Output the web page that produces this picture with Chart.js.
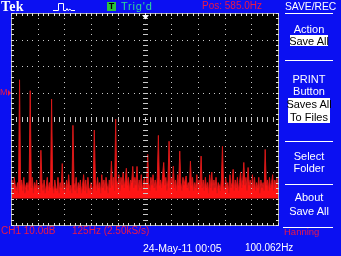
<!DOCTYPE html>
<html>
<head>
<meta charset="utf-8">
<script src="https://cdn.jsdelivr.net/npm/chart.js@4"></script>
<style>
  html, body { margin:0; padding:0; }
  body { width:341px; height:256px; background:#0b10f2; position:relative; overflow:hidden; }
  #c { position:absolute; left:0; top:0; }
  .t { position:absolute; white-space:nowrap; line-height:1; font-family:"Liberation Sans", Arial, sans-serif; font-size:10px; color:#fff; }
  .r { color:#ec1846; }
  .m { width:48px; left:285px; text-align:center; font-size:11px; }
  .box { position:absolute; background:#fff; }
  .ln { position:absolute; height:1px; background:#fff; }
</style>
</head>
<body>
<canvas id="c" width="341" height="256"></canvas>

<div class="t" style="left:1px;top:0px;font-family:'Liberation Serif',serif;font-weight:bold;font-size:14px;letter-spacing:0.3px;">Tek</div>
<svg style="position:absolute;left:53px;top:2px" width="22" height="10"><polyline points="0,8.5 5.5,8.5 5.5,1.5 10.5,1.5 10.5,8.5 13,8.5 14,6.5 15,8.5 17,7 18,8.5 22,8.5" fill="none" stroke="#fff" stroke-width="1"/></svg>
<div class="t" style="left:107px;top:2px;width:9px;height:9px;background:#2cc43c;color:#000;font-weight:bold;font-size:9px;text-align:center;line-height:9px;">T</div>
<div class="t" style="left:121px;top:1.3px;font-size:11px;letter-spacing:0.8px;color:#2ed898;">Trig'd</div>
<div class="t r" style="left:202px;top:1.4px;">Pos: 585.0Hz</div>
<div class="t" style="left:285px;top:2px;font-size:10.3px;">SAVE/REC</div>
<div class="ln" style="left:285px;top:13px;width:48px;"></div>

<div class="t m" style="top:23.6px;">Action</div>
<div class="box" style="left:290px;top:35px;width:38px;height:11px;"></div>
<div class="t m" style="top:35.6px;color:#000;">Save All</div>
<div class="ln" style="left:285px;top:60px;width:48px;"></div>

<div class="t m" style="top:73.6px;">PRINT</div>
<div class="t m" style="top:85.6px;">Button</div>
<div class="box" style="left:288px;top:98px;width:42px;height:25px;"></div>
<div class="t m" style="top:98.6px;color:#000;">Saves All</div>
<div class="t m" style="top:111.6px;color:#000;">To Files</div>
<div class="ln" style="left:285px;top:141px;width:48px;"></div>

<div class="t m" style="top:150.6px;">Select</div>
<div class="t m" style="top:162.6px;">Folder</div>
<div class="ln" style="left:285px;top:184px;width:48px;"></div>

<div class="t m" style="top:191.6px;">About</div>
<div class="t m" style="top:205.6px;">Save All</div>
<div class="ln" style="left:283px;top:227px;width:50px;"></div>

<div class="t r" style="left:0px;top:88px;font-size:9px;">M</div>
<div style="position:absolute;left:8px;top:90px;width:0;height:0;border-top:3px solid transparent;border-bottom:3px solid transparent;border-left:3px solid #ec1846;"></div>

<div class="t r" style="left:1px;top:226.3px;">CH1 10.0dB</div>
<div class="t r" style="left:72px;top:226.3px;">125Hz (2.50kS/s)</div>
<div class="t r" style="left:284px;top:226.5px;font-size:9.5px;">Hanning</div>
<div class="t" style="left:143px;top:242.7px;font-size:10.5px;">24-May-11 00:05</div>
<div class="t" style="left:245px;top:242.7px;font-size:10px;">100.062Hz</div>

<script>
// FFT bins (Hz) - span 1250 Hz, center 585 Hz
const binStartHz = -40;
const binStepHz = 5;
// Magnitude per bin in dB above screen bottom (10 dB/div, 8 divisions)
const levelsDb = [
  14,17,12,18,15,13,16,12,54.8,15,
  17,13,18,12,15,16,13,17,50.7,14,
  18,12,16,14,17,13,15,12,28.2,16,
  13,17,12,15,18,13,16,14,47.5,15,
  12,17,14,13,18,12,16,14,23.2,13,
  16,12,17,14,19,13,15,12,37.6,16,
  13,18,12,16,14,17,12,15,19,13,
  17,12,18,14,13,16,12,15,35.8,17,
  13,18,14,16,12,19,14,17,13,18,
  15,12,17,14,24.1,15,18,13,40.0,17,
  14,19,13,18,15,20,14,17,21.4,15,
  18,13,17,16,22.1,14,18,15,22.1,13,
  17,14,19,13,16,18,14,17,26.6,16,
  13,18,15,19,14,17,13,18,33.8,15,
  17,14,19,23.6,15,18,13,17,31.6,14,
  18,15,22.2,14,17,13,19,15,27.9,16,
  13,18,15,17,18.5,14,16,13,24.1,15,
  18,13,16,14,19,13,17,15,26.0,14,
  17,13,18,14,16,12,19,14,20,13,
  17,14,18,12,16,15,13,17,29.7,15,
  13,18,14,16,12,19,14,16,21,13,
  17,14,18,13,16,20,14,17,23.6,15,
  18,13,21.7,15,17,13,19,14,18,13,
  16,14,18,12,17,14,16,13,28.5,15,
  17,13,18,14,16,19,13,17,15,18,
  14
];
const noiseFloorDb = 10;
// graticule division lines
const xDivisionsHz = [-40, 85, 210, 335, 460, 585, 710, 835, 960, 1085, 1210];
const yDivisionsDb = [0, 10, 20, 30, 40, 50, 60, 70, 80];

const points = levelsDb.map((v, i) => ({ x: binStartHz + i * binStepHz, y: v }));

const scopePlugin = {
  id: 'scope',
  beforeDraw(chart) {
    const { ctx, chartArea: a } = chart;
    ctx.save();
    ctx.fillStyle = '#000';
    ctx.fillRect(a.left, a.top, a.right - a.left, a.bottom - a.top);
    ctx.restore();
  },
  afterDatasetsDraw(chart) {
    const { ctx, chartArea: a, scales } = chart;
    const xs = xDivisionsHz.map(v => Math.round(scales.x.getPixelForValue(v)));
    const ys = yDivisionsDb.map(v => Math.round(scales.y.getPixelForValue(v)));
    const L = xs[0], R = xs[xs.length - 1], T = ys[ys.length - 1], B = ys[0];
    ctx.save();
    ctx.fillStyle = '#c8c8c8';
    // vertical dotted lines
    for (let i = 1; i < xs.length - 1; i++) {
      const cx = i === 5;
      for (let j = 0; j <= 40; j++) {
        const yy = Math.round(T + (B - T) * j / 40);
        if (cx) ctx.fillRect(xs[i] - 2, yy, 5, 1);
        else ctx.fillRect(xs[i], yy, 1, 1);
      }
    }
    // horizontal dotted lines
    for (let k = 1; k < ys.length - 1; k++) {
      const cy = k === 4;
      for (let j = 0; j <= 50; j++) {
        const xx = Math.round(L + (R - L) * j / 50);
        if (cy) ctx.fillRect(xx, ys[k] - 2, 1, 5);
        else ctx.fillRect(xx, ys[k], 1, 1);
      }
    }
    // frame
    ctx.fillStyle = '#b0b0b0';
    ctx.fillRect(L, T, R - L + 1, 1);
    ctx.fillRect(L, B, R - L + 1, 1);
    ctx.fillRect(L, T, 1, B - T + 1);
    ctx.fillRect(R, T, 1, B - T + 1);
    ctx.fillStyle = '#e0e0e0';
    for (let j = 0; j <= 50; j++) {
      const xx = Math.round(L + (R - L) * j / 50);
      ctx.fillRect(xx, T, 1, 3);
      ctx.fillRect(xx, B - 2, 1, 3);
    }
    for (let j = 0; j <= 40; j++) {
      const yy = Math.round(T + (B - T) * j / 40);
      ctx.fillRect(L, yy, 3, 1);
      ctx.fillRect(R - 2, yy, 3, 1);
    }
    // trigger position marker
    const mx = xs[5] + 0.5;
    ctx.fillStyle = '#fff';
    ctx.beginPath();
    ctx.moveTo(mx - 3.5, T + 2);
    ctx.lineTo(mx + 3.5, T + 2);
    ctx.lineTo(mx, T + 6.5);
    ctx.closePath();
    ctx.fill();
    ctx.fillRect(xs[5], T, 1, 3);
    ctx.restore();
  }
};

new Chart(document.getElementById('c'), {
  type: 'line',
  data: {
    datasets: [{
      data: points,
      borderColor: '#d81818',
      backgroundColor: '#ff1414',
      borderWidth: 1,
      pointRadius: 0,
      tension: 0,
      fill: { value: noiseFloorDb }
    }]
  },
  options: {
    responsive: false,
    animation: false,
    devicePixelRatio: 1,
    layout: { padding: { left: 11, right: 63, top: 13, bottom: 31 } },
    plugins: { legend: { display: false }, tooltip: { enabled: false } },
    scales: {
      x: { type: 'linear', min: -40, max: 1210, display: false },
      y: { type: 'linear', min: 0, max: 80, display: false }
    }
  },
  plugins: [scopePlugin]
});
</script>
</body>
</html>
